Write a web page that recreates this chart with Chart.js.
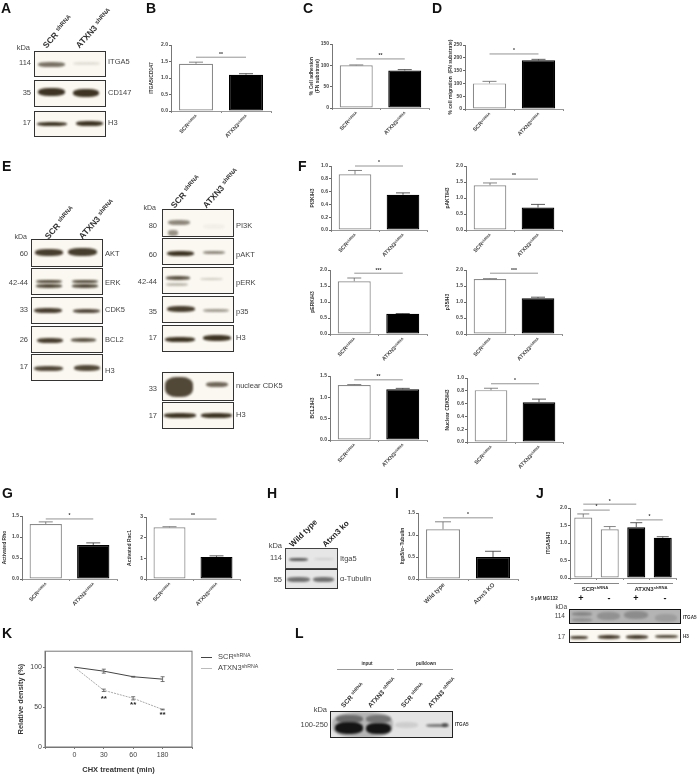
<!DOCTYPE html>
<html>
<head>
<meta charset="utf-8">
<script src="https://cdn.jsdelivr.net/npm/chart.js@4"></script>
<style>
  html, body { margin: 0; padding: 0; background: #fff; }
  #page { position: relative; width: 698px; height: 775px; overflow: hidden; font-family: "Liberation Sans", Arial, sans-serif; filter: blur(0.25px); }
  #page canvas { position: absolute; }
  .t { position: absolute; white-space: nowrap; color: #444; line-height: 1; }
  .t sup { font-size: 70%; vertical-align: baseline; position: relative; top: -0.45em; }
  .blot { position: absolute; overflow: hidden; box-sizing: border-box; border: 1px solid #333; }
  .band { position: absolute; border-radius: 40%; filter: blur(1px); }
  .rule { position: absolute; height: 1px; background: #888; }
</style>
</head>
<body>
<div id="page"></div>
<script>
// values
const shLabels = ["SCR", "ATXN3"];
const shSup = ["shRNA", "shRNA"];
const wtLabels = ["Wild type", "Atxn3 KO"];

const bMeans = [1.43, 1.10], bErrs = [0.05, 0.03], bSig = [[0, 1, 1.63, "**"]];
const cMeans = [100, 88], cErrs = [1, 2], cSig = [[0, 1, 115, "**"]];
const dMeans = [100, 190], dErrs = [8, 4], dSig = [[0, 1, 215, "*"]];
const pi3kMeans = [0.87, 0.55], pi3kErrs = [0.06, 0.03], pi3kSig = [[0, 1, 1.0, "*"]];
const paktMeans = [1.40, 0.70], paktErrs = [0.07, 0.10], paktSig = [[0, 1, 1.59, "**"]];
const perkMeans = [1.65, 0.63], perkErrs = [0.10, 0.01], perkSig = [[0, 1, 1.9, "***"]];
const p35Means = [1.72, 1.12], p35Errs = [0.01, 0.03], p35Sig = [[0, 1, 1.9, "***"]];
const bcl2Means = [1.29, 1.19], bcl2Errs = [0.01, 0.02], bcl2Sig = [[0, 1, 1.41, "**"]];
const ncdk5Means = [0.81, 0.62], ncdk5Errs = [0.03, 0.05], ncdk5Sig = [[0, 1, 0.91, "*"]];
const rhoMeans = [1.31, 0.81], rhoErrs = [0.05, 0.05], rhoSig = [[0, 1, 1.43, "*"]];
const racMeans = [2.50, 1.07], racErrs = [0.03, 0.05], racSig = [[0, 1, 2.9, "**"]];
const iMeans = [1.13, 0.50], iErrs = [0.17, 0.13], iSig = [[0, 1, 1.39, "*"]];
const jMeans = [1.73, 1.39, 1.45, 1.15], jErrs = [0.10, 0.08, 0.13, 0.03];
const jSig = [[0, 2, 2.11, "*"], [0, 1, 1.94, "*"], [2, 3, 1.66, "*"]];
const jTreat = ["+", "-", "+", "-"];

const kTimes = ["", "0", "30", "60", "180", ""];
const kScr = [null, 100, 95, 88, 85, null];
const kScrErr = [0, 0, 2.5, 0.5, 3, 0];
const kAtxn = [null, 100, 71, 61, 47, null];
const kAtxnErr = [0, 0, 1.5, 2, 0.5, 0];
const kStarLevels = [null, null, 62, 54, 42, null];

const page = document.getElementById("page");

function txt(x, y, html, o) {
  o = o || {};
  const el = document.createElement("div");
  el.className = "t";
  el.innerHTML = html;
  el.style.fontSize = (o.size || 7.5) + "px";
  if (o.bold) el.style.fontWeight = "bold";
  if (o.color) el.style.color = o.color;
  if (o.angle) {
    el.style.left = x + "px";
    el.style.top = y + "px";
    el.style.transformOrigin = "0 100%";
    el.style.transform = "translateY(-100%) rotate(" + o.angle + "deg)";
  } else {
    const ax = o.align === "right" ? "-100%" : o.align === "center" ? "-50%" : "0";
    el.style.left = x + "px";
    el.style.top = y + "px";
    el.style.transform = "translate(" + ax + ",-50%)";
  }
  page.appendChild(el);
}

function rule(x1, x2, y, color) {
  const el = document.createElement("div");
  el.className = "rule";
  el.style.cssText = "left:" + x1 + "px;width:" + (x2 - x1) + "px;top:" + y + "px;background:" + (color || "#888");
  page.appendChild(el);
}

// x1, x2, center y, height, opacity
function blot(x1, y1, x2, y2, bands, o) {
  o = o || {};
  const el = document.createElement("div");
  el.className = "blot";
  el.style.cssText = "left:" + x1 + "px;top:" + y1 + "px;width:" + (x2 - x1) + "px;height:" + (y2 - y1) + "px;background:" + (o.bg || "#faf8f1") + ";border-color:" + (o.border || "#333");
  bands.forEach(b => {
    const s = document.createElement("div");
    s.className = "band";
    s.style.cssText = "left:" + (b[0] - x1 - 1) + "px;width:" + (b[1] - b[0]) + "px;top:" + (b[2] - b[3] / 2 - y1 - 1) + "px;height:" + b[3] + "px;opacity:" + b[4] + ";background:" + (o.band || "#352a18");
    el.appendChild(s);
  });
  page.appendChild(el);
}

function shLabel(x, y, name, size) {
  const s = size || 8.5;
  txt(x + s * 0.5, y + 1, name + ' <sup>shRNA</sup>', { size: s, bold: true, angle: -48, color: "#333" });
}

function marksPlugin(cfg) {
  return {
    id: "panelMarks",
    afterDatasetsDraw(chart) {
      const ctx = chart.ctx, xs = chart.scales.x, ys = chart.scales.y;
      ctx.save();
      // error whiskers, upper only
      const meta = chart.getDatasetMeta(0);
      cfg.values.forEach((v, i) => {
        const x = meta.data[i].x, top = ys.getPixelForValue(v + cfg.errs[i]), y = ys.getPixelForValue(v);
        ctx.strokeStyle = cfg.bar[i] === "#000" ? "#333" : "#666";
        ctx.lineWidth = 0.8;
        ctx.beginPath();
        ctx.moveTo(x, y); ctx.lineTo(x, top);
        ctx.moveTo(x - cfg.cap, top); ctx.lineTo(x + cfg.cap, top);
        ctx.stroke();
      });
      // significance lines
      ctx.textAlign = "center";
      ctx.textBaseline = "middle";
      (cfg.sig || []).forEach(s => {
        const a = xs.getPixelForValue(s[0]), b = xs.getPixelForValue(s[1]), y = ys.getPixelForValue(s[2]);
        ctx.strokeStyle = "#888";
        ctx.lineWidth = 0.9;
        ctx.beginPath(); ctx.moveTo(a, y); ctx.lineTo(b, y); ctx.stroke();
        ctx.fillStyle = "#333";
        ctx.font = "bold 5px 'Liberation Sans'";
        ctx.fillText(s[3], (a + b) / 2, y - 3);
      });
      // slanted category labels
      (cfg.labels || []).forEach((lab, i) => {
        ctx.save();
        ctx.translate(xs.getPixelForValue(i) + 1, ys.bottom + 5);
        ctx.rotate(-Math.PI / 4);
        ctx.fillStyle = "#444";
        ctx.textAlign = "right";
        ctx.textBaseline = "middle";
        let right = 0;
        if (cfg.sups) {
          ctx.font = "bold 3.6px 'Liberation Sans'";
          ctx.fillText(cfg.sups[i], 0, -1);
          right = -ctx.measureText(cfg.sups[i]).width;
        }
        ctx.font = "bold " + (cfg.labelSize || 5.5) + "px 'Liberation Sans'";
        ctx.fillText(lab, right, 0);
        ctx.restore();
      });
      ctx.restore();
    }
  };
}

function barPanel(p) {
  const T = 14, B = 44, R = 3;
  const L = p.axisX - p.titleX + 3;
  const w = L + p.endX - p.axisX + R, h = T + p.y0 - p.yTop + B;
  const c = document.createElement("canvas");
  c.width = w; c.height = h;
  c.style.left = (p.axisX - L) + "px";
  c.style.top = (p.yTop - T) + "px";
  c.style.width = w + "px"; c.style.height = h + "px";
  page.appendChild(c);
  const bar = p.bar || ["#fff", "#000"];
  new Chart(c, {
    type: "bar",
    data: {
      labels: p.values.map((v, i) => String(i)),
      datasets: [{
        data: p.values,
        backgroundColor: bar,
        borderColor: bar.map(b => b === "#000" ? "#000" : "#8a8a8a"),
        borderWidth: 1.2,
        borderSkipped: false,
        barPercentage: 0.68,
        categoryPercentage: 1
      }]
    },
    options: {
      responsive: false,
      animation: false,
      devicePixelRatio: 1,
      layout: { padding: { top: T, right: R, left: 0, bottom: 0 } },
      plugins: { legend: { display: false }, tooltip: { enabled: false } },
      scales: {
        x: {
          afterFit: s => { s.height = B; },
          ticks: { display: false },
          grid: { drawOnChartArea: false, tickLength: 2, tickColor: "#888" },
          border: { color: "#999", width: 1 }
        },
        y: {
          min: 0, max: p.max,
          afterFit: s => { s.width = L; },
          ticks: {
            stepSize: p.step, padding: 1, color: "#444",
            font: { size: 5, weight: "bold", family: "'Liberation Sans'" },
            callback: v => v.toFixed(p.dec)
          },
          grid: { drawOnChartArea: false, tickLength: 2, tickColor: "#666" },
          border: { color: "#777", width: 1 },
          title: {
            display: true, text: p.title, color: "#333", padding: 0,
            font: { size: 5, weight: "bold", family: "'Liberation Sans'" }
          }
        }
      }
    },
    plugins: [marksPlugin({ values: p.values, errs: p.errs, sig: p.sig, bar, cap: p.cap || 7, labels: p.labels, sups: p.sups, labelSize: p.labelSize })]
  });
}

const sh = { labels: shLabels, sups: shSup };
barPanel({ ...sh, axisX: 171, endX: 271, yTop: 45, y0: 111, max: 2, step: 0.5, dec: 1, titleX: 152, title: "ITGA5/CD147", values: bMeans, errs: bErrs, sig: bSig });
barPanel({ ...sh, axisX: 332, endX: 429, yTop: 44, y0: 108, max: 150, step: 50, dec: 0, titleX: 312, title: ["% Cell adhesion", "(FN substrate)"], values: cMeans, errs: cErrs, sig: cSig });
barPanel({ ...sh, axisX: 465, endX: 563, yTop: 45, y0: 109, max: 250, step: 50, dec: 0, titleX: 451, title: "% cell migration  (FN substrate)", values: dMeans, errs: dErrs, sig: dSig });

barPanel({ ...sh, axisX: 331, endX: 427, yTop: 166, y0: 230, max: 1, step: 0.2, dec: 1, titleX: 313, title: "PI3K/H3", values: pi3kMeans, errs: pi3kErrs, sig: pi3kSig });
barPanel({ ...sh, axisX: 466, endX: 562, yTop: 166, y0: 230, max: 2, step: 0.5, dec: 1, titleX: 448, title: "pAKT/H3", values: paktMeans, errs: paktErrs, sig: paktSig });
barPanel({ ...sh, axisX: 330, endX: 427, yTop: 270, y0: 334, max: 2, step: 0.5, dec: 1, titleX: 313, title: "pERK/H3", values: perkMeans, errs: perkErrs, sig: perkSig });
barPanel({ ...sh, axisX: 466, endX: 562, yTop: 270, y0: 334, max: 2, step: 0.5, dec: 1, titleX: 448, title: "p35/H3", values: p35Means, errs: p35Errs, sig: p35Sig });
barPanel({ ...sh, axisX: 330, endX: 427, yTop: 376, y0: 440, max: 1.5, step: 0.5, dec: 1, titleX: 313, title: "BCL2/H3", values: bcl2Means, errs: bcl2Errs, sig: bcl2Sig });
barPanel({ ...sh, axisX: 467, endX: 563, yTop: 378, y0: 442, max: 1, step: 0.2, dec: 1, titleX: 448, title: "Nuclear CDK5/H3", values: ncdk5Means, errs: ncdk5Errs, sig: ncdk5Sig });

barPanel({ ...sh, axisX: 22, endX: 117, yTop: 516, y0: 579, max: 1.5, step: 0.5, dec: 1, titleX: 5, title: "Activated Rho", values: rhoMeans, errs: rhoErrs, sig: rhoSig });
barPanel({ ...sh, axisX: 146, endX: 240, yTop: 517, y0: 579, max: 3, step: 1, dec: 0, titleX: 130, title: "Activated Rac1", values: racMeans, errs: racErrs, sig: racSig });
barPanel({ labels: wtLabels, labelSize: 6, axisX: 418, endX: 518, yTop: 513, y0: 579, max: 1.5, step: 0.5, dec: 1, titleX: 403, title: "Itga5/α–Tubulin", values: iMeans, errs: iErrs, sig: iSig, cap: 8 });
barPanel({ axisX: 570, endX: 676, yTop: 508, y0: 578, max: 2, step: 0.5, dec: 1, titleX: 549, title: "ITGA5/H3", values: jMeans, errs: jErrs, sig: jSig, bar: ["#fff", "#fff", "#000", "#000"], cap: 6 });

// K: line chart
(function () {
  const cv = document.createElement("canvas");
  const L = 32, T = 3, R = 3, left = 45 - L, top = 649 - T, w = L + 147 + R, h = 774 - top;
  cv.width = w; cv.height = h;
  cv.style.left = left + "px"; cv.style.top = top + "px";
  cv.style.width = w + "px"; cv.style.height = h + "px";
  page.appendChild(cv);
  const errPlugin = {
    id: "kMarks",
    afterDatasetsDraw(chart) {
      const ctx = chart.ctx, ys = chart.scales.y, xs = chart.scales.x, a = chart.chartArea;
      ctx.save();
      ctx.strokeStyle = "#777";
      ctx.lineWidth = 1;
      ctx.strokeRect(a.left, a.top, a.right - a.left, a.bottom - a.top);
      [[kScr, kScrErr], [kAtxn, kAtxnErr]].forEach(pair => {
        pair[0].forEach((v, i) => {
          if (v === null || !pair[1][i]) return;
          const x = xs.getPixelForValue(i), y1 = ys.getPixelForValue(v - pair[1][i]), y2 = ys.getPixelForValue(v + pair[1][i]);
          ctx.strokeStyle = "#555";
          ctx.lineWidth = 0.8;
          ctx.beginPath();
          ctx.moveTo(x, y1); ctx.lineTo(x, y2);
          ctx.moveTo(x - 2, y1); ctx.lineTo(x + 2, y1);
          ctx.moveTo(x - 2, y2); ctx.lineTo(x + 2, y2);
          ctx.stroke();
        });
      });
      ctx.fillStyle = "#222";
      ctx.font = "bold 8px 'Liberation Sans'";
      ctx.textAlign = "center";
      ctx.textBaseline = "middle";
      kStarLevels.forEach((v, i) => {
        if (v !== null) ctx.fillText("**", xs.getPixelForValue(i), ys.getPixelForValue(v) + 1);
      });
      ctx.restore();
    }
  };
  new Chart(cv, {
    type: "line",
    data: {
      labels: kTimes,
      datasets: [
        { label: "SCR", data: kScr, borderColor: "#444", borderWidth: 1, pointRadius: 0, tension: 0 },
        { label: "ATXN3", data: kAtxn, borderColor: "#aaa", borderWidth: 1, borderDash: [2, 1], pointRadius: 0, tension: 0 }
      ]
    },
    options: {
      responsive: false,
      animation: false,
      devicePixelRatio: 1,
      layout: { padding: { top: T, right: R, left: 0, bottom: 0 } },
      plugins: { legend: { display: false }, tooltip: { enabled: false } },
      scales: {
        x: {
          offset: false,
          afterFit: s => { s.height = 27; },
          ticks: { color: "#444", padding: 2, maxRotation: 0, autoSkip: false, font: { size: 7, family: "'Liberation Sans'" } },
          grid: { drawOnChartArea: false, tickLength: 2, tickColor: "#777" },
          border: { color: "#777" },
          title: { display: true, text: "CHX treatment (min)", color: "#333", padding: { top: 0, bottom: 0 }, font: { size: 7.5, weight: "bold", family: "'Liberation Sans'" } }
        },
        y: {
          min: 0, max: 120,
          afterFit: s => { s.width = L; },
          ticks: { stepSize: 50, includeBounds: false, color: "#444", padding: 1, font: { size: 7, family: "'Liberation Sans'" } },
          grid: { drawOnChartArea: false, tickLength: 2, tickColor: "#777" },
          border: { color: "#777" },
          title: { display: true, text: "Relative density (%)", color: "#333", padding: { top: 3, bottom: 0 }, font: { size: 7.5, weight: "bold", family: "'Liberation Sans'" } }
        }
      }
    },
    plugins: [errPlugin]
  });
})();

rule(201, 212, 656.5, "#444");
rule(201, 212, 667.5, "#bbb");
txt(218, 657, "SCR<sup>shRNA</sup>", { size: 7.5 });
txt(218, 668, "ATXN3<sup>shRNA</sup>", { size: 7.5 });

// panel letters
[["A", 1, 8], ["B", 146, 8], ["C", 303, 8], ["D", 432, 8], ["E", 2, 166], ["F", 298, 166],
 ["G", 2, 493], ["H", 267, 493], ["I", 395, 493], ["J", 536, 493], ["K", 2, 633], ["L", 295, 633]]
  .forEach(l => txt(l[1], l[2], l[0], { size: 14, bold: true, color: "#111" }));

// A blots
blot(34, 51, 106, 77, [[38, 65, 64, 5, 0.65], [73, 100, 63, 3, 0.12]]);
blot(34, 80, 106, 107, [[38, 65, 92, 8, 0.95], [73, 99, 93, 8, 0.95]]);
blot(34, 111, 106, 137, [[37, 67, 124, 4.5, 0.95], [76, 103, 123, 5, 0.95]]);
txt(30, 48, "kDa", { align: "right" });
[["114", 63], ["35", 93], ["17", 123]].forEach(r => txt(31, r[1], r[0], { align: "right" }));
[["ITGA5", 62], ["CD147", 93], ["H3", 123]].forEach(r => txt(108, r[1], r[0]));
shLabel(44, 49, "SCR");
shLabel(77, 49, "ATXN3");

// E left blots
blot(31, 239, 103, 267, [[35, 63, 252, 7, 0.9], [68, 97, 252, 8, 0.9]]);
blot(31, 268, 103, 295, [[36, 62, 281, 3, 0.85], [36, 62, 286, 3.5, 0.85], [72, 98, 281, 3, 0.85], [72, 98, 286, 3.5, 0.85]]);
blot(31, 297, 103, 324, [[34, 62, 310, 5, 0.9], [73, 100, 311, 4.5, 0.85]]);
blot(31, 326, 103, 353, [[37, 63, 340, 5, 0.9], [71, 96, 340, 4, 0.8]]);
blot(31, 354, 103, 381, [[34, 63, 368, 5, 0.85], [74, 100, 368, 6, 0.85]]);
txt(27, 236, "kDa", { align: "right", size: 7 });
[["60", 254], ["42-44", 283], ["33", 310], ["26", 340], ["17", 367]].forEach(r => txt(28, r[1], r[0], { align: "right" }));
[["AKT", 254], ["ERK", 283], ["CDK5", 310], ["BCL2", 340], ["H3", 371]].forEach(r => txt(105, r[1], r[0]));
shLabel(46, 240, "SCR");
shLabel(80, 240, "ATXN3");

// E right blots
blot(162, 209, 234, 237, [[168, 190, 222, 5, 0.55], [168, 178, 233, 6, 0.5], [203, 225, 226, 5, 0.04]]);
blot(162, 238, 234, 265, [[167, 194, 253, 5, 0.95], [203, 225, 252, 3, 0.55]]);
blot(162, 267, 234, 294, [[166, 190, 278, 4, 0.8], [166, 188, 284, 3, 0.3], [200, 223, 279, 2.5, 0.22]]);
blot(162, 296, 234, 323, [[167, 195, 309, 6, 0.9], [203, 229, 310, 3, 0.45]]);
blot(162, 325, 234, 352, [[165, 195, 339, 5, 0.95], [203, 231, 338, 6, 0.95]]);
blot(162, 372, 234, 401, [[165, 193, 387, 20, 0.85], [206, 228, 384, 5, 0.7]]);
blot(162, 402, 234, 429, [[164, 196, 415, 5, 0.95], [201, 232, 415, 5, 0.95]]);
txt(156, 207, "kDa", { align: "right", size: 7 });
[["80", 226], ["60", 255], ["42-44", 282], ["35", 312], ["17", 338], ["33", 389], ["17", 416]].forEach(r => txt(157, r[1], r[0], { align: "right" }));
[["PI3K", 226], ["pAKT", 255], ["pERK", 283], ["p35", 312], ["H3", 338], ["nuclear CDK5", 386], ["H3", 415]].forEach(r => txt(236, r[1], r[0]));
shLabel(172, 209, "SCR");
shLabel(204, 209, "ATXN3");

// H blots
blot(285, 548, 338, 569, [[289, 308, 559, 3, 0.7], [314, 334, 559, 2, 0.12]], { bg: "#e6e6e6", band: "#222", border: "#444" });
blot(285, 569, 338, 589, [[287, 310, 579, 5, 0.6], [313, 334, 579, 5, 0.6]], { bg: "#e6e6e6", band: "#222", border: "#333" });
txt(282, 546, "kDa", { align: "right" });
txt(282, 558, "114", { align: "right" });
txt(282, 580, "55", { align: "right" });
txt(340, 559, "Itga5");
txt(340, 579, "α-Tubulin");
txt(294, 549, "Wild type", { size: 8, bold: true, angle: -45, color: "#222" });
txt(327, 549, "Atxn3 ko", { size: 8, bold: true, angle: -45, color: "#222" });

// J annotations and blots
rule(574, 619, 583);
rule(627, 673, 583);
txt(595, 589, "SCR<sup>shRNA</sup>", { size: 6, bold: true, align: "center", color: "#333" });
txt(651, 589, "ATXN3<sup>shRNA</sup>", { size: 6, bold: true, align: "center", color: "#333" });
txt(531, 599, "5 μM MG132", { size: 4.6, bold: true, color: "#333" });
[581, 609, 636, 665].forEach((x, i) => txt(x, 598, jTreat[i], { size: 9, bold: true, align: "center", color: "#111" }));
blot(569, 609, 681, 624, [[572, 592, 614, 4, 0.4], [572, 592, 620, 4, 0.3], [597, 620, 616, 8, 0.3], [624, 648, 615, 8, 0.35], [655, 677, 618, 8, 0.2]], { bg: "#b4b4b4", band: "#444", border: "#111" });
blot(569, 629, 681, 643, [[570, 588, 637, 3, 0.9], [598, 620, 637, 3.5, 0.9], [626, 648, 637, 3.5, 0.9], [655, 678, 636, 3, 0.85]], { border: "#222" });
txt(567, 607, "kDa", { align: "right", size: 6.5 });
txt(565, 616, "114", { align: "right", size: 6.5 });
txt(565, 637, "17", { align: "right", size: 6.5 });
txt(683, 618, "ITGA5", { size: 4.6, bold: true, color: "#333" });
txt(683, 637, "H3", { size: 4.6, bold: true, color: "#333" });

// L blot
rule(337, 394, 669, "#999");
rule(397, 453, 669, "#999");
txt(367, 664, "input", { size: 4.6, bold: true, align: "center", color: "#333" });
txt(426, 664, "pulldown", { size: 4.6, bold: true, align: "center", color: "#333" });
blot(330, 711, 453, 738, [
  [332, 393, 725, 26, 0.22],
  [336, 363, 719, 8, 0.45], [366, 391, 719, 8, 0.4],
  [335, 363, 728, 12, 0.98], [366, 391, 728, 11, 0.98],
  [395, 418, 725, 6, 0.1], [426, 449, 725, 3, 0.5], [442, 448, 725, 3.5, 0.5]
], { bg: "#e4e4e4", band: "#111", border: "#222" });
txt(327, 710, "kDa", { align: "right" });
txt(328, 725, "100-250", { align: "right" });
txt(455, 725, "ITGA5", { size: 4.6, bold: true, color: "#333" });
[["SCR", 342], ["ATXN3", 369], ["SCR", 402], ["ATXN3", 429]].forEach(l => shLabel(l[1], 708, l[0], 6.5));
</script>
</body>
</html>
